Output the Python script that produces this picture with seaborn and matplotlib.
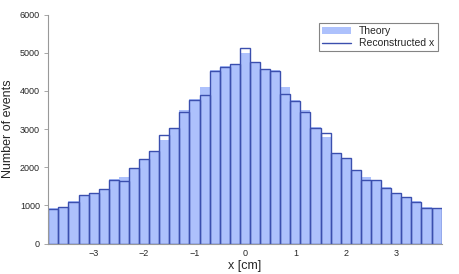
import numpy as np
import pandas as pd
import seaborn as sns
import matplotlib
matplotlib.use("Agg")
import matplotlib.pyplot as plt
from matplotlib.patches import Patch
from matplotlib.lines import Line2D

# bin centres, width 0.2 from -3.9 to 3.9
bin_centers = [round(-3.8 + 0.2 * i, 1) for i in range(39)]

theory = [938, 960, 1110, 1280, 1330, 1440, 1680, 1742, 1985, 2210,
          2430, 2703, 3040, 3490, 3786, 4108, 4540, 4650, 4710, 5000,
          4720, 4570, 4545, 4092, 3750, 3490, 3050, 2800, 2345, 2220,
          1940, 1742, 1665, 1470, 1335, 1230, 1110, 950, 896]

reconstructed = [912, 948, 1095, 1262, 1315, 1428, 1664, 1637, 1970, 2206,
                 2423, 2843, 3026, 3445, 3760, 3891, 4520, 4624, 4695, 5114,
                 4755, 4580, 4528, 3925, 3733, 3437, 3034, 2887, 2371, 2249,
                 1926, 1655, 1655, 1454, 1323, 1218, 1095, 938, 938]

df = pd.DataFrame({"x": bin_centers, "theory": theory, "reco": reconstructed})

sns.set_style("white")
plt.rcParams['font.family'] = ['Liberation Sans', 'DejaVu Sans']

fill_col = "#adc1fc"
line_col = "#3b4fae"

fig = plt.figure(figsize=(4.6, 2.74), dpi=100)
ax = fig.add_axes([0.105, 0.111, 0.855, 0.836])

sns.histplot(data=df, x="x", weights="theory", binwidth=0.2, binrange=(-3.9, 3.9),
             element="bars", fill=True, color=fill_col, alpha=1, linewidth=0, ax=ax)
sns.histplot(data=df, x="x", weights="reco", binwidth=0.2, binrange=(-3.9, 3.9),
             element="bars", fill=False, color=line_col, linewidth=1.0, ax=ax)

ax.set_xlim(-3.9, 3.9)
ax.set_ylim(0, 6000)
ax.set_yticks(range(0, 6001, 1000))
ax.set_xticks([-3, -2, -1, 0, 1, 2, 3])
ax.set_xticklabels(["\u22123", "\u22122", "\u22121", "0", "1", "2", "3"])
ax.set_xlabel("x [cm]", fontsize=9, labelpad=1)
ax.set_ylabel("Number of events", fontsize=9, labelpad=4)
ax.tick_params(axis="both", labelsize=6.5)
ax.tick_params(axis="y", direction="out", length=3, width=0.6, color="#999999", left=True, pad=3)
ax.tick_params(axis="x", length=0, pad=4)

for s in ["top", "right"]:
    ax.spines[s].set_visible(False)
for s in ["left", "bottom"]:
    ax.spines[s].set_color("#999999")
    ax.spines[s].set_linewidth(0.8)

handles = [Patch(facecolor=fill_col, edgecolor="none", label="Theory"),
           Line2D([0], [0], color=line_col, lw=1.0, label="Reconstructed x")]
leg = ax.legend(handles=handles, loc="upper right", fontsize=7.5, frameon=True,
                fancybox=False, edgecolor="#666666", borderpad=0.3,
                handlelength=2.8, handletextpad=0.8, labelspacing=0.2,
                bbox_to_anchor=(1.003, 0.985))
leg.get_frame().set_linewidth(0.8)

fig.savefig("out.png", dpi=100)
